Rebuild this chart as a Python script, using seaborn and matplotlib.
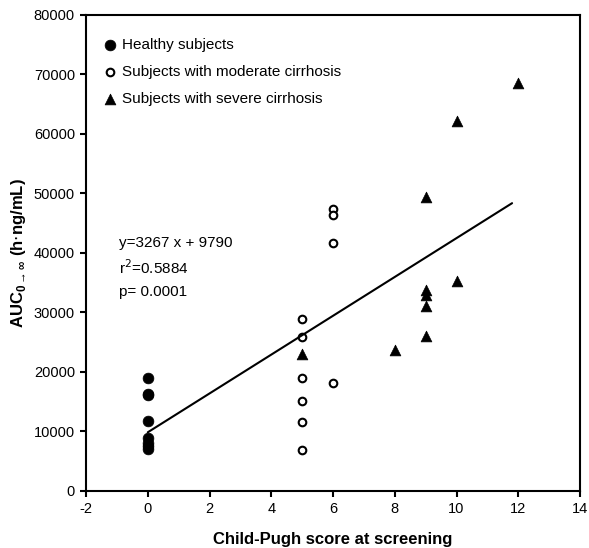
import numpy as np
import pandas as pd
import seaborn as sns
import matplotlib
matplotlib.use("Agg")
import matplotlib.pyplot as plt

# --- data ---
healthy_x = [0, 0, 0, 0, 0, 0, 0, 0]
healthy_y = [18900, 16300, 16000, 11700, 8800, 8000, 7500, 6900]

moderate_x = [5, 5, 5, 5, 5, 5, 6, 6, 6, 6]
moderate_y = [28800, 25900, 19000, 15000, 11500, 6800, 47300, 46300, 41600, 18100]

severe_x = [5, 8, 9, 9, 9, 9, 9, 10, 10, 12]
severe_y = [23000, 23600, 49400, 33800, 32900, 31100, 26000, 62200, 35300, 68500]

slope = 3267
intercept = 9790
fit_x = [0, 11.8]

x_ticks = [-2, 0, 2, 4, 6, 8, 10, 12, 14]
y_ticks = [0, 10000, 20000, 30000, 40000, 50000, 60000, 70000, 80000]

sns.set_theme(style="ticks")
plt.rcParams['font.family'] = ['Liberation Sans', 'DejaVu Sans']
plt.rcParams['text.color'] = 'black'
plt.rcParams['axes.labelcolor'] = 'black'
plt.rcParams['xtick.color'] = 'black'
plt.rcParams['ytick.color'] = 'black'

fig = plt.figure(figsize=(5.89, 5.48), dpi=100)
ax = fig.add_axes([86 / 589, 1 - 490.5 / 548, (580 - 86) / 589, (490.5 - 15) / 548])

df = pd.DataFrame({
    'x': healthy_x + moderate_x + severe_x,
    'y': healthy_y + moderate_y + severe_y,
    'group': ['Healthy subjects'] * len(healthy_x)
             + ['Subjects with moderate cirrhosis'] * len(moderate_x)
             + ['Subjects with severe cirrhosis'] * len(severe_x),
})

sns.scatterplot(data=df[df.group == 'Healthy subjects'], x='x', y='y', marker='o',
                s=60, color='black', edgecolor='black', linewidth=0.5, ax=ax,
                label='Healthy subjects')
sns.scatterplot(data=df[df.group == 'Subjects with moderate cirrhosis'], x='x', y='y',
                marker='o', s=30, facecolor='white', edgecolor='black', linewidth=1.5,
                ax=ax, label='Subjects with moderate cirrhosis')
sns.scatterplot(data=df[df.group == 'Subjects with severe cirrhosis'], x='x', y='y',
                marker='^', s=60, color='black', edgecolor='black', linewidth=0.5,
                ax=ax, label='Subjects with severe cirrhosis')

# regression line
fx = np.array(fit_x)
ax.plot(fx, slope * fx + intercept, color='black', lw=1.5, zorder=1)

ax.text(0.066, 0.52, 'y=3267 x + 9790', transform=ax.transAxes, fontsize=11, va='center')
ax.text(0.066, 0.468, 'r$^2$=0.5884', transform=ax.transAxes, fontsize=11, va='center')
ax.text(0.066, 0.417, 'p= 0.0001', transform=ax.transAxes, fontsize=11, va='center')

ax.set_xlim(-2, 14)
ax.set_ylim(0, 80000)
ax.set_xticks(x_ticks)
ax.set_yticks(y_ticks)
ax.set_xticklabels([str(t) for t in x_ticks])
ax.set_yticklabels([str(t) for t in y_ticks])
ax.tick_params(axis='both', direction='out', length=4, width=1.5, color='black',
               labelcolor='black', labelsize=10.5, pad=4)
for sp in ax.spines.values():
    sp.set_linewidth(1.5)
    sp.set_color('black')

ax.set_xlabel('Child-Pugh score at screening', fontsize=12, fontweight='bold', labelpad=12)
ax.set_ylabel(r'AUC$_{\mathregular{0\rightarrow\infty}}$ (h$\cdot$ng/mL)', fontsize=12,
              fontweight='bold', labelpad=4)

leg = ax.legend(loc='upper left', bbox_to_anchor=(-0.005, 0.975), frameon=False,
                fontsize=11, handletextpad=-0.2, labelspacing=0.85, borderaxespad=0.3)

fig.savefig('out.png', dpi=100)
